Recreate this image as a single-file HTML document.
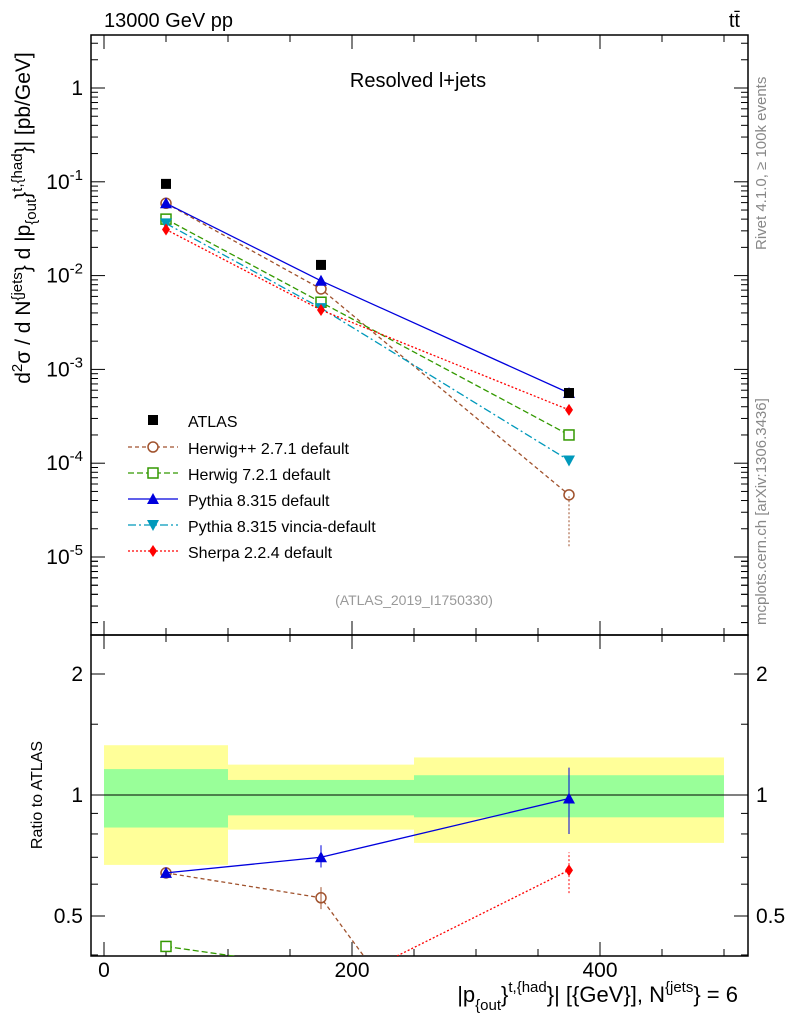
<!DOCTYPE html>
<html><head><meta charset="utf-8"><style>
html,body{margin:0;padding:0;background:#fff;overflow:hidden;width:786px;height:1024px;}
svg{display:block;}
svg text{font-family:"Liberation Sans",sans-serif;}
</style></head><body>
<svg id="c" width="786" height="1024" xmlns="http://www.w3.org/2000/svg"></svg>
<script>
const xCenters=[50,175,375];
const binEdges=[0,100,250,500];
const atlas=[0.095,0.013,5.6e-4];
const herwigpp=[0.059,0.0072,4.6e-5];
const herwig7=[0.040,0.0052,2.0e-4];
const pythia=[0.059,0.0088,5.6e-4];
const vincia=[0.036,0.0045,1.07e-4];
const sherpa=[0.031,0.0043,3.7e-4];
const herwigppR=[0.64,0.555,0.08];
const herwig7R=[0.42,0.37,0.36];
const pythiaR=[0.64,0.70,0.98];
const vinciaR=[0.37,0.34,0.2];
const sherpaR=[0.31,0.32,0.65];
const yellowLo=[0.67,0.82,0.76];
const yellowHi=[1.33,1.19,1.24];
const greenLo=[0.83,0.89,0.88];
const greenHi=[1.16,1.09,1.12];
const xTicks=[0,200,400];
const yExp=[0,-1,-2,-3,-4,-5];
const rTicks=[0.5,1,2];

const NS="http://www.w3.org/2000/svg";
const svg=document.getElementById('c');
function el(t,a,p){const e=document.createElementNS(NS,t);for(const k in a)e.setAttribute(k,a[k]);(p||svg).appendChild(e);return e;}
const L=91,R=748,T=35,MB=635,RB=956;
const X=v=>104+v*1.24;
const Y=v=>88-Math.log10(v)*93.8;
const RY=v=>795-Math.log2(v)*121;

const defs=el('defs',{});
const cp1=el('clipPath',{id:'cm'},defs);el('rect',{x:L,y:T,width:R-L,height:MB-T},cp1);
const cp2=el('clipPath',{id:'cr'},defs);el('rect',{x:L,y:MB,width:R-L,height:RB-MB},cp2);

const gb=el('g',{'clip-path':'url(#cr)'});


for(let i=0;i<3;i++){
  const y=el('rect',{x:X(binEdges[i]),y:RY(yellowHi[i]),width:X(binEdges[i+1])-X(binEdges[i]),height:RY(yellowLo[i])-RY(yellowHi[i]),fill:'#ffff99'},gb);
  
  
  const g=el('rect',{x:X(binEdges[i]),y:RY(greenHi[i]),width:X(binEdges[i+1])-X(binEdges[i]),height:RY(greenLo[i])-RY(greenHi[i]),fill:'#99ff99'},gb);
  
  
}
el('line',{x1:L,x2:R,y1:RY(1),y2:RY(1),stroke:'#000'});

el('rect',{x:L,y:T,width:R-L,height:MB-T,fill:'none',stroke:'#000','stroke-width':1.5});
el('rect',{x:L,y:MB,width:R-L,height:RB-MB,fill:'none',stroke:'#000','stroke-width':1.5});

for(const e of yExp){
  const y=Y(Math.pow(10,e));
  el('line',{x1:L,x2:L+14,y1:y,y2:y,stroke:'#000'});el('line',{x1:R,x2:R-14,y1:y,y2:y,stroke:'#000'});
  for(let m=2;m<10;m++){const ym=Y(m*Math.pow(10,e-1));if(ym>T&&ym<MB){el('line',{x1:L,x2:L+7,y1:ym,y2:ym,stroke:'#000'});el('line',{x1:R,x2:R-7,y1:ym,y2:ym,stroke:'#000'});}}
  const t=el('text',{x:L-8,y:y+7,'text-anchor':'end','font-size':21});
  
  
  if(e===0)t.textContent='1';else{t.textContent='10';const s=el('tspan',{dy:-9,'font-size':15},t);s.textContent=String(e);}
}
for(let m=2;m<10;m++){const ym=Y(m*1e-6);if(ym<MB){el('line',{x1:L,x2:L+7,y1:ym,y2:ym,stroke:'#000'});el('line',{x1:R,x2:R-7,y1:ym,y2:ym,stroke:'#000'});}const y2=Y(m);if(y2>T){el('line',{x1:L,x2:L+7,y1:y2,y2:y2,stroke:'#000'});el('line',{x1:R,x2:R-7,y1:y2,y2:y2,stroke:'#000'});}}
for(let v=0;v<=500;v+=50){const x=X(v);const big=v%200===0;const h=big?14:7;
  for(const [a,b] of [[T,T+h],[MB,MB-h],[MB,MB+h],[RB,RB-h]])el('line',{x1:x,x2:x,y1:a,y2:b,stroke:'#000'});}
for(const v of xTicks){const t=el('text',{x:X(v),y:RB+21,'text-anchor':'middle','font-size':21});t.textContent=v;
  
  }
for(const v of rTicks){const y=RY(v);el('line',{x1:L,x2:L+14,y1:y,y2:y,stroke:'#000'});el('line',{x1:R,x2:R-14,y1:y,y2:y,stroke:'#000'});
  for(const [x,a] of [[L-8,'end'],[R+8,'start']]){const t=el('text',{x:x,y:y+7,'text-anchor':a,'font-size':21});t.textContent=v;
  
  }}
for(const v of [0.4,0.6,0.7,0.8,0.9,1.5]){const y=RY(v);if(y<RB){el('line',{x1:L,x2:L+7,y1:y,y2:y,stroke:'#000'});el('line',{x1:R,x2:R-7,y1:y,y2:y,stroke:'#000'});}}

const series=[
 {d:herwigpp,r:herwigppR,c:'#a0522d',dash:'4,3',m:'circle',n:'Herwig++ 2.7.1 default',name:'herwigpp'},
 {d:herwig7,r:herwig7R,c:'#339900',dash:'6,3',m:'square',n:'Herwig 7.2.1 default',name:'herwig7'},
 {d:pythia,r:pythiaR,c:'#0000dd',dash:'',m:'tri',n:'Pythia 8.315 default',name:'pythia'},
 {d:vincia,r:vinciaR,c:'#0099bb',dash:'8,3,2,3',m:'tridown',n:'Pythia 8.315 vincia-default',name:'vincia'},
 {d:sherpa,r:sherpaR,c:'#ff0000',dash:'2,2',m:'diamond',n:'Sherpa 2.2.4 default',name:'sherpa'}];
function marker(g,m,x,y,c){
 if(m==='circle')el('circle',{cx:x,cy:y,r:5,fill:'#fff',stroke:c,'stroke-width':1.5},g);
 else if(m==='square')el('rect',{x:x-5,y:y-5,width:10,height:10,fill:'#fff',stroke:c,'stroke-width':1.5},g);
 else if(m==='tri')el('path',{d:`M${x},${y-6}L${x+6},${y+5}L${x-6},${y+5}Z`,fill:c},g);
 else if(m==='tridown')el('path',{d:`M${x},${y+6}L${x+6},${y-5}L${x-6},${y-5}Z`,fill:c},g);
 else if(m==='diamond')el('path',{d:`M${x},${y-6}L${x+4},${y}L${x},${y+6}L${x-4},${y}Z`,fill:c},g);
 else if(m==='sq')el('rect',{x:x-5,y:y-5,width:10,height:10,fill:c},g);
}
for(const s of series){
 const g=el('g',{'clip-path':'url(#cm)'});
 
 
 el('polyline',{points:xCenters.map((x,i)=>X(x)+','+Y(s.d[i])).join(' '),fill:'none',stroke:s.c,'stroke-width':1.3,'stroke-dasharray':s.dash},g);
 xCenters.forEach((x,i)=>marker(g,s.m,X(x),Y(s.d[i]),s.c));
 const gr=el('g',{'clip-path':'url(#cr)'});
 
 
 el('polyline',{points:xCenters.map((x,i)=>X(x)+','+RY(s.r[i])).join(' '),fill:'none',stroke:s.c,'stroke-width':1.3,'stroke-dasharray':s.dash},gr);
 xCenters.forEach((x,i)=>marker(gr,s.m,X(x),RY(s.r[i]),s.c));
}
el('line',{x1:X(375),x2:X(375),y1:Y(1.3e-5),y2:Y(4.6e-5),stroke:'#a0522d','stroke-dasharray':'2,2'});
el('line',{x1:X(375),x2:X(375),y1:RY(0.80),y2:RY(1.17),stroke:'#0000dd'});
el('line',{x1:X(375),x2:X(375),y1:RY(0.57),y2:RY(0.72),stroke:'#ff0000','stroke-dasharray':'2,2'});
el('line',{x1:X(175),x2:X(175),y1:RY(0.66),y2:RY(0.75),stroke:'#0000dd'});
el('line',{x1:X(175),x2:X(175),y1:RY(0.52),y2:RY(0.59),stroke:'#a0522d'});
el('line',{x1:X(50),x2:X(50),y1:RY(0.62),y2:RY(0.66),stroke:'#0000dd'});
const ga=el('g',{});


xCenters.forEach((x,i)=>marker(ga,'sq',X(x),Y(atlas[i]),'#000'));

const lg=el('g',{});


marker(lg,'sq',153,420,'#000');
let t=el('text',{x:188,y:427,'font-size':16},lg);t.textContent='ATLAS';
series.forEach((s,i)=>{const y=447+i*26;
 el('line',{x1:128,x2:178,y1:y,y2:y,stroke:s.c,'stroke-width':1.3,'stroke-dasharray':s.dash},lg);
 marker(lg,s.m,153,y,s.c);
 const tt=el('text',{x:188,y:y+7,'font-size':16},lg);tt.textContent=s.n;
 
 });

function txt(x,y,s,a,name,extra){const e=el('text',Object.assign({x:x,y:y,'font-size':20,'text-anchor':a||'start'},extra||{}));e.textContent=s;
 
 return e;}
txt(104,27,'13000 GeV pp','start','header-energy');
txt(740,27,'tt̄','end','header-process');
txt(418,87,'Resolved l+jets','middle','plot-title');
txt(414,605,'(ATLAS_2019_I1750330)','middle','analysis-label',{'font-size':14,fill:'#999'});
txt(0,0,'Rivet 4.1.0, ≥ 100k events','start','rivet-label',{'font-size':15,fill:'#888',transform:'translate(766,250) rotate(-90)'});
txt(0,0,'mcplots.cern.ch [arXiv:1306.3436]','start','mcplots-label',{'font-size':15,fill:'#888',transform:'translate(766,625) rotate(-90)'});
txt(0,0,'Ratio to ATLAS','middle','ratio-y-title',{'font-size':16,transform:'translate(42,795) rotate(-90)'});
const yt=txt(0,0,'','middle','y-axis-title',{'font-size':21,transform:'translate(30,218) rotate(-90)'});
yt.innerHTML='d<tspan dy="-8" font-size="15">2</tspan><tspan dy="8">σ / d N</tspan><tspan dy="-8" font-size="15">{jets</tspan><tspan dy="8">} d |p</tspan><tspan dy="6" font-size="15">{out</tspan><tspan dy="-6">}</tspan><tspan dy="-8" font-size="15">t,{had</tspan><tspan dy="8">}| [pb/GeV]</tspan>';
const xt=txt(738,1002,'','end','x-axis-title',{'font-size':22});
xt.innerHTML='|p<tspan dy="8" font-size="15">{out</tspan><tspan dy="-8">}</tspan><tspan dy="-10" font-size="15">t,{had</tspan><tspan dy="10">}| [{GeV}], N</tspan><tspan dy="-10" font-size="15">{jets</tspan><tspan dy="10">} = 6</tspan>';
</script>
</body></html>
